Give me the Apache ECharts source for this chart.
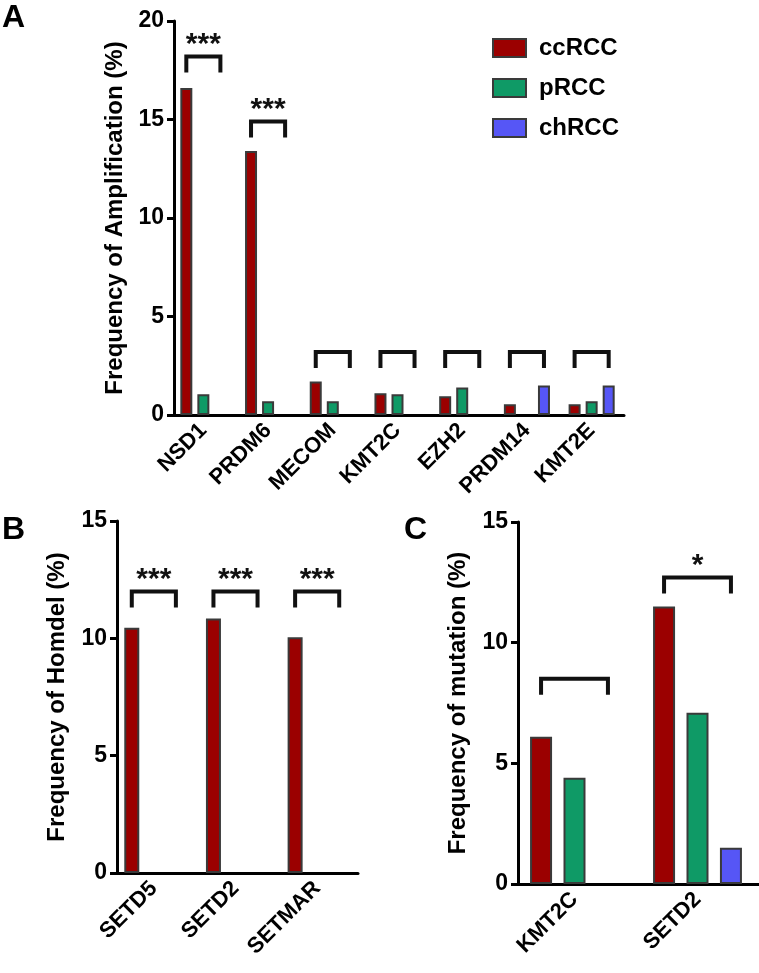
<!DOCTYPE html>
<html>
<head>
<meta charset="utf-8">
<script src="https://cdn.jsdelivr.net/npm/echarts@6/dist/echarts.min.js"></script>
<style>
  html, body { margin: 0; padding: 0; background: #fff; }
  #main { width: 759px; height: 973px; }
</style>
</head>
<body>
<div id="main"></div>
<script>
// panel A: amplification
var ampGenes = ['NSD1', 'PRDM6', 'MECOM', 'KMT2C', 'EZH2', 'PRDM14', 'KMT2E'];
var ampCc = [16.6, 13.4, 1.7, 1.1, 0.95, 0.55, 0.55];
var ampP = [1.05, 0.7, 0.7, 1.05, 1.4, 0, 0.7];
var ampCh = [0, 0, 0, 0, 0, 1.5, 1.5];
var ampBracket = [18.2, 14.9, 3.2, 3.2, 3.2, 3.2, 3.2];
var ampStars = ['***', '***', '', '', '', '', ''];

// panel B: homdel
var homGenes = ['SETD5', 'SETD2', 'SETMAR'];
var homCc = [10.45, 10.85, 10.05];
var homP = [0, 0, 0];
var homCh = [0, 0, 0];
var homBracket = [12.0, 12.0, 12.0];
var homStars = ['***', '***', '***'];

// panel C: mutation
var mutGenes = ['KMT2C', 'SETD2'];
var mutCc = [6.1, 11.5];
var mutP = [4.4, 7.1];
var mutCh = [0, 1.5];
var mutBracket = [8.5, 12.7];
var mutStars = ['', '*'];

var groups = ['ccRCC', 'pRCC', 'chRCC'];
var colors = ['#9b0000', '#0f9a66', '#5656f6'];
var FONT = '"Liberation Sans", Arial, sans-serif';

var chart = echarts.init(document.getElementById('main'));

function xAxisOf(idx, cats) {
    return {
        type: 'category', gridIndex: idx, data: cats,
        axisLine: { lineStyle: { color: '#000', width: 3 } },
        axisTick: { alignWithLabel: true, length: 8, lineStyle: { color: '#000', width: 3 } },
        axisLabel: { rotate: 45, interval: 0, margin: 12, color: '#000', fontSize: 22, fontWeight: 'bold', fontFamily: FONT }
    };
}

function yAxisOf(idx, max, name, off, gap) {
    return {
        type: 'value', gridIndex: idx, min: 0, max: max, interval: 5, offset: off,
        name: name, nameLocation: 'middle', nameGap: gap,
        nameTextStyle: { color: '#000', fontSize: 24, fontWeight: 'bold', fontFamily: FONT },
        axisLine: { show: true, lineStyle: { color: '#000', width: 3 } },
        axisTick: { show: true, length: 7, lineStyle: { color: '#000', width: 3 } },
        axisLabel: { margin: 10, color: '#000', fontSize: 23, fontWeight: 'bold', fontFamily: FONT },
        splitLine: { show: false }
    };
}

function barsOf(idx, vals, bw, gap) {
    return vals.map(function (v, k) {
        return {
            name: groups[k], type: 'bar', xAxisIndex: idx, yAxisIndex: idx,
            // empty bars get no outline so the axis stays black
            data: v.map(function (d) {
                return d === 0 ? { value: 0, itemStyle: { borderWidth: 0 } } : d;
            }),
            barWidth: bw, barGap: gap + '%',
            itemStyle: { color: colors[k], borderColor: '#3a3a3a', borderWidth: 2 },
            emphasis: { disabled: true }
        };
    });
}

function bracketOf(idx, tops, stars, pitch) {
    return {
        type: 'custom', xAxisIndex: idx, yAxisIndex: idx, silent: true, z: 5,
        data: tops.map(function (t, i) { return [i, t]; }),
        renderItem: function (params, api) {
            var c = api.coord([api.value(0), api.value(1)]);
            var x = c[0], y = c[1], leg = 16;
            return {
                type: 'group',
                children: [{
                    type: 'polyline',
                    shape: { points: [[x - pitch, y + leg], [x - pitch, y], [x + pitch, y], [x + pitch, y + leg]] },
                    style: { stroke: '#111', lineWidth: 4, fill: null }
                }, {
                    type: 'text',
                    style: {
                        text: stars[params.dataIndex], x: x, y: y - 12,
                        align: 'center', verticalAlign: 'middle',
                        fontSize: 30, fontWeight: 'bold', fontFamily: FONT, fill: '#111'
                    }
                }]
            };
        }
    };
}

var bwA = 12, gapA = 42;
var bwB = 15, gapB = 47;
var bwC = 22, gapC = 52;

var series = []
    .concat(barsOf(0, [ampCc, ampP, ampCh], bwA, gapA))
    .concat(barsOf(1, [homCc, homP, homCh], bwB, gapB))
    .concat(barsOf(2, [mutCc, mutP, mutCh], bwC, gapC));
series.push(bracketOf(0, ampBracket, ampStars, bwA * (1 + gapA / 100)));
series.push(bracketOf(1, homBracket, homStars, bwB * (1 + gapB / 100)));
series.push(bracketOf(2, mutBracket, mutStars, bwC * (1 + gapC / 100)));

var option = {
    backgroundColor: '#fff',
    animation: false,
    textStyle: { fontFamily: FONT },
    graphic: [
        { type: 'text', left: 2, top: 2, style: { text: 'A', fontSize: 32, fontWeight: 'bold', fontFamily: FONT, fill: '#000' } },
        { type: 'text', left: 2, top: 514, style: { text: 'B', fontSize: 32, fontWeight: 'bold', fontFamily: FONT, fill: '#000' } },
        { type: 'text', left: 404, top: 514, style: { text: 'C', fontSize: 32, fontWeight: 'bold', fontFamily: FONT, fill: '#000' } }
    ],
    legend: {
        data: groups, orient: 'vertical', left: 487, top: 31,
        icon: 'rect', itemWidth: 33, itemHeight: 18, itemGap: 16,
        textStyle: { color: '#000', fontSize: 24, fontWeight: 'bold', fontFamily: FONT, padding: [0, 0, 0, 8] },
        selectedMode: false
    },
    grid: [
        { left: 171, top: 21, width: 453, height: 394 },
        { left: 113, top: 521, width: 245, height: 352 },
        { left: 513, top: 522, width: 248, height: 362 }
    ],
    xAxis: [xAxisOf(0, ampGenes), xAxisOf(1, homGenes), xAxisOf(2, mutGenes)],
    yAxis: [
        yAxisOf(0, 20, 'Frequency of Amplification (%)', -3, 44),
        yAxisOf(1, 15, 'Frequency of Homdel (%)', -4, 48),
        yAxisOf(2, 15, 'Frequency of mutation (%)', -5, 48)
    ],
    series: series
};

chart.setOption(option);
</script>
</body>
</html>
